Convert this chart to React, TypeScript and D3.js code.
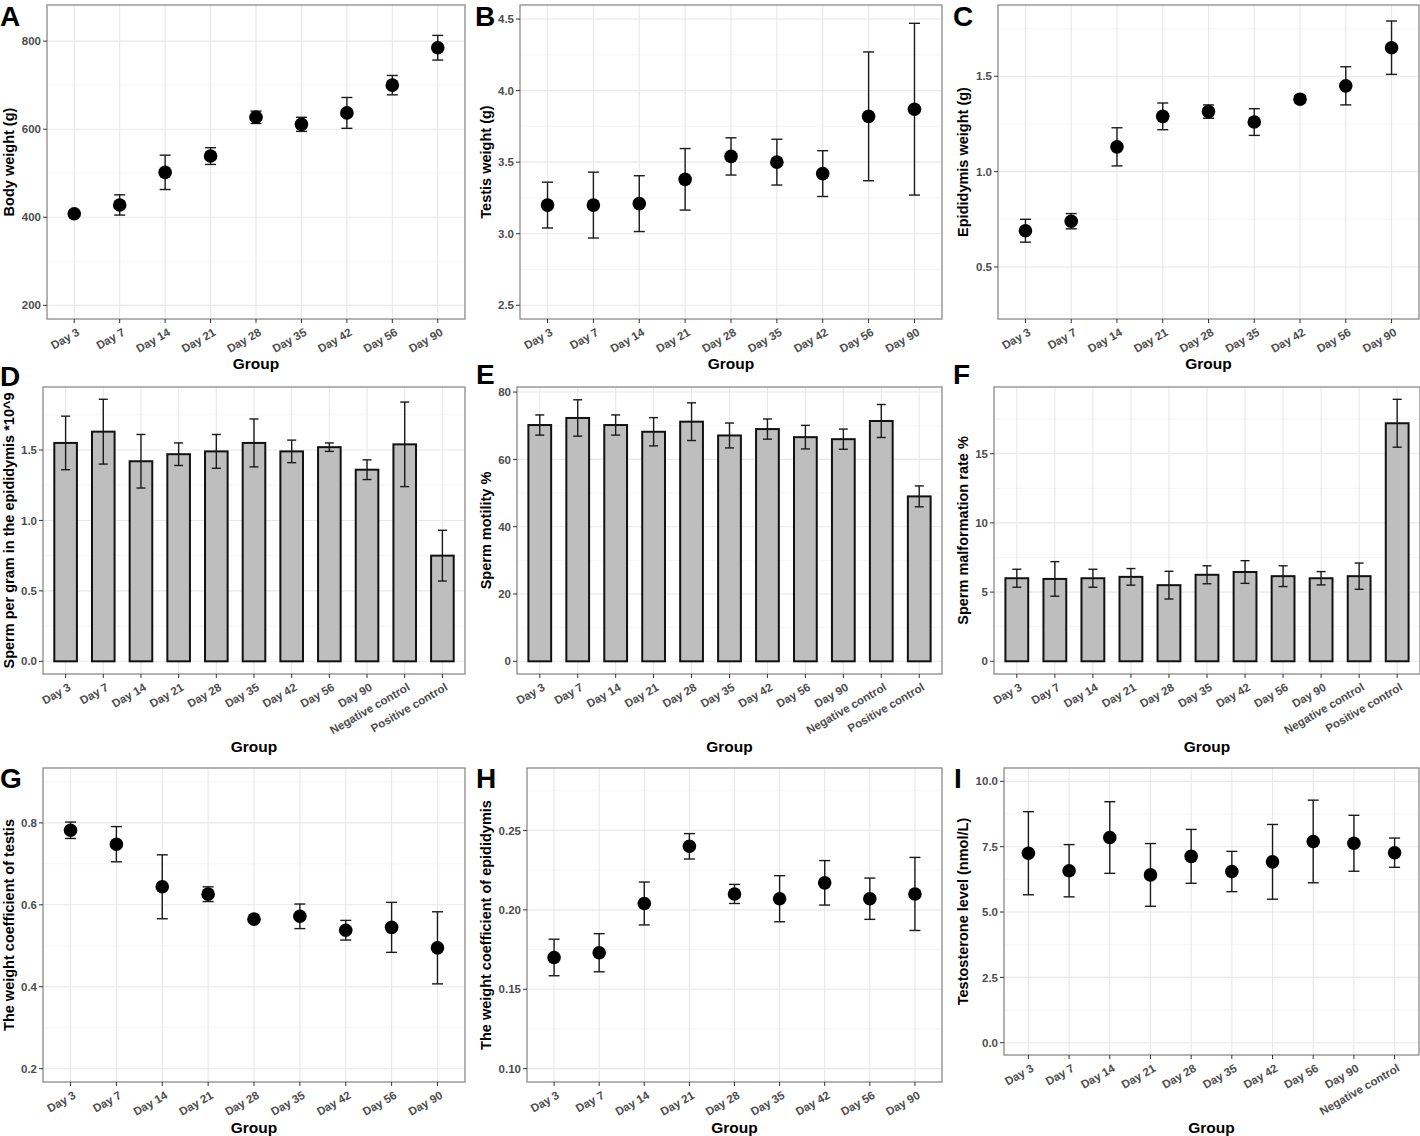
import * as d3 from "d3";

const DAYS = ["Day 3", "Day 7", "Day 14", "Day 21", "Day 28", "Day 35", "Day 42", "Day 56", "Day 90"];
const GROUPS_ALL = [...DAYS, "Negative control", "Positive control"];
const GROUPS_I = [...DAYS, "Negative control"];

// A body weight
const bodyMean = [408, 428, 502, 539, 627, 611, 637, 700, 785];
const bodySd = [6, 23, 39, 19, 14, 16, 35, 22, 28];
// B testis weight
const testisMean = [3.2, 3.2, 3.21, 3.38, 3.54, 3.5, 3.42, 3.82, 3.87];
const testisSd = [0.16, 0.23, 0.195, 0.215, 0.13, 0.16, 0.16, 0.45, 0.6];
// C epididymis weight
const epiMean = [0.69, 0.74, 1.13, 1.29, 1.315, 1.26, 1.38, 1.45, 1.65];
const epiSd = [0.06, 0.04, 0.1, 0.07, 0.035, 0.07, 0.02, 0.1, 0.14];
// D sperm per gram
const spermMean = [1.55, 1.63, 1.42, 1.47, 1.49, 1.55, 1.49, 1.52, 1.36, 1.54, 0.75];
const spermSd = [0.19, 0.23, 0.19, 0.08, 0.12, 0.17, 0.08, 0.03, 0.07, 0.3, 0.18];
// E motility
const motilityMean = [70.2, 72.3, 70.2, 68.2, 71.2, 67.1, 69.0, 66.6, 66.0, 71.4, 49.0];
const motilitySd = [3.0, 5.4, 3.0, 4.2, 5.6, 3.7, 3.0, 3.5, 3.0, 4.9, 3.1];
// F malformation
const malformMean = [6.0, 5.95, 6.0, 6.1, 5.5, 6.25, 6.45, 6.15, 6.0, 6.15, 17.2];
const malformSd = [0.65, 1.25, 0.65, 0.6, 1.0, 0.65, 0.82, 0.75, 0.48, 0.95, 1.73];
// G coefficient testis
const coefTestisMean = [0.782, 0.748, 0.644, 0.626, 0.565, 0.572, 0.538, 0.545, 0.495];
const coefTestisSd = [0.02, 0.043, 0.078, 0.018, 0.004, 0.03, 0.024, 0.061, 0.088];
// H coefficient epididymis
const coefEpiMean = [0.17, 0.173, 0.204, 0.24, 0.21, 0.207, 0.217, 0.207, 0.21];
const coefEpiSd = [0.0115, 0.012, 0.0135, 0.008, 0.006, 0.0145, 0.014, 0.013, 0.023];
// I testosterone
const testoMean = [7.25, 6.58, 7.85, 6.42, 7.13, 6.55, 6.92, 7.7, 7.63, 7.27];
const testoSd = [1.59, 1.0, 1.37, 1.2, 1.03, 0.77, 1.43, 1.58, 1.07, 0.56];

const FONT = "'Liberation Sans', Arial, sans-serif";

type PanelProps = {
  letter: string;
  letterX: number;
  letterY: number;
  box: { x0: number; x1: number; y0: number; y1: number };
  groups: string[];
  mean: number[];
  sd: number[];
  domain: [number, number];
  ticks: number[];
  fmt: string;
  yTitle: string;
  yTitleX: number;
  xTitleY: number;
  bars?: boolean;
};

const Panel = ({ letter, letterX, letterY, box, groups, mean, sd, domain, ticks, fmt, yTitle, yTitleX, xTitleY, bars }: PanelProps) => {
  const x = d3.scalePoint<string>().domain(groups).range([box.x0, box.x1]).padding(0.6);
  const y = d3.scaleLinear().domain(domain).range([box.y1, box.y0]);
  const step = x.step();
  const format = d3.format(fmt);
  const tickStep = ticks[1] - ticks[0];
  const minor: number[] = [];
  for (let v = ticks[0] - tickStep / 2; v <= domain[1]; v += tickStep) {
    if (v >= domain[0]) minor.push(v);
  }
  const capW = bars ? 9 : 11;
  return (
    <g>
      <rect x={box.x0} y={box.y0} width={box.x1 - box.x0} height={box.y1 - box.y0} fill="#fff" />
      {minor.map((v, i) => (
        <line key={"mi" + i} x1={box.x0} x2={box.x1} y1={y(v)} y2={y(v)} stroke="#f4f4f4" strokeWidth={0.8} />
      ))}
      {ticks.map((v, i) => (
        <line key={"ma" + i} x1={box.x0} x2={box.x1} y1={y(v)} y2={y(v)} stroke="#e8e8e8" strokeWidth={1.1} />
      ))}
      {groups.map((g) => (
        <line key={"vg" + g} x1={x(g)} x2={x(g)} y1={box.y0} y2={box.y1} stroke="#e8e8e8" strokeWidth={1.1} />
      ))}
      {bars &&
        groups.map((g, i) => (
          <rect
            key={"b" + g}
            x={(x(g) as number) - step * 0.3}
            width={step * 0.6}
            y={y(mean[i])}
            height={y(0) - y(mean[i])}
            fill="#bebebe"
            stroke="#111"
            strokeWidth={2}
          />
        ))}
      {groups.map((g, i) => {
        const cx = x(g) as number;
        const lo = y(mean[i] - sd[i]);
        const hi = y(mean[i] + sd[i]);
        return (
          <g key={"e" + g} stroke="#1a1a1a" strokeWidth={1.4}>
            <line x1={cx} x2={cx} y1={lo} y2={hi} />
            <line x1={cx - capW / 2} x2={cx + capW / 2} y1={lo} y2={lo} />
            <line x1={cx - capW / 2} x2={cx + capW / 2} y1={hi} y2={hi} />
          </g>
        );
      })}
      {!bars &&
        groups.map((g, i) => <circle key={"p" + g} cx={x(g)} cy={y(mean[i])} r={6.8} fill="#000" />)}
      <rect x={box.x0} y={box.y0} width={box.x1 - box.x0} height={box.y1 - box.y0} fill="none" stroke="#8a8a8a" strokeWidth={1.3} />
      {ticks.map((v, i) => (
        <g key={"yt" + i}>
          <line x1={box.x0 - 4} x2={box.x0} y1={y(v)} y2={y(v)} stroke="#333" strokeWidth={1} />
          <text
            x={box.x0 - 6}
            y={y(v)}
            dy="0.36em"
            textAnchor="end"
            fontSize={11.5}
            fontWeight="bold"
            fill="#4d4d4d"
          >
            {format(v)}
          </text>
        </g>
      ))}
      {groups.map((g) => (
        <g key={"xt" + g}>
          <line x1={x(g)} x2={x(g)} y1={box.y1} y2={box.y1 + 4} stroke="#333" strokeWidth={1} />
          <text
            transform={`translate(${(x(g) as number) + 4},${box.y1 + 12}) rotate(-30)`}
            textAnchor="end"
            dy="0.35em"
            fontSize={11.5}
            fontWeight="bold"
            fill="#4d4d4d"
          >
            {g}
          </text>
        </g>
      ))}
      <text
        transform={`translate(${yTitleX},${(box.y0 + box.y1) / 2}) rotate(-90)`}
        textAnchor="middle"
        fontSize={14.5}
        fontWeight="bold"
        fill="#000"
      >
        {yTitle}
      </text>
      <text x={(box.x0 + box.x1) / 2} y={xTitleY} textAnchor="middle" fontSize={15.5} fontWeight="bold" fill="#000">
        Group
      </text>
      <text x={letterX} y={letterY} fontSize={28} fontWeight="bold" fill="#000">
        {letter}
      </text>
    </g>
  );
};

export default function App() {
  return (
    <svg
      width={1420}
      height={1136}
      style={{ position: "absolute", left: 0, top: 0, background: "#fff", fontFamily: FONT }}
    >
      <rect width={1420} height={1136} fill="#fff" />
      <Panel letter="A" letterX={0} letterY={26} box={{ x0: 47, x1: 465, y0: 5, y1: 319 }} groups={DAYS}
        mean={bodyMean} sd={bodySd} domain={[169, 882]} ticks={[200, 400, 600, 800]} fmt="d"
        yTitle="Body weight (g)" yTitleX={14} xTitleY={369} />
      <Panel letter="B" letterX={475} letterY={26} box={{ x0: 520, x1: 942, y0: 5, y1: 319 }} groups={DAYS}
        mean={testisMean} sd={testisSd} domain={[2.404, 4.598]} ticks={[2.5, 3.0, 3.5, 4.0, 4.5]} fmt=".1f"
        yTitle="Testis weight (g)" yTitleX={491} xTitleY={369} />
      <Panel letter="C" letterX={953} letterY={26} box={{ x0: 998, x1: 1419, y0: 5, y1: 319 }} groups={DAYS}
        mean={epiMean} sd={epiSd} domain={[0.227, 1.874]} ticks={[0.5, 1.0, 1.5]} fmt=".1f"
        yTitle="Epididymis weight (g)" yTitleX={968} xTitleY={369} />
      <Panel letter="D" letterX={0} letterY={386} box={{ x0: 43, x1: 465, y0: 387, y1: 674 }} groups={GROUPS_ALL}
        mean={spermMean} sd={spermSd} domain={[-0.09, 1.947]} ticks={[0.0, 0.5, 1.0, 1.5]} fmt=".1f"
        yTitle="Sperm per gram in the epididymis *10^9" yTitleX={14} xTitleY={752} bars />
      <Panel letter="E" letterX={476} letterY={384} box={{ x0: 517, x1: 942, y0: 387, y1: 674 }} groups={GROUPS_ALL}
        mean={motilityMean} sd={motilitySd} domain={[-3.77, 81.5]} ticks={[0, 20, 40, 60, 80]} fmt="d"
        yTitle="Sperm motility %" yTitleX={491} xTitleY={752} bars />
      <Panel letter="F" letterX={953} letterY={384} box={{ x0: 994, x1: 1420, y0: 387, y1: 674 }} groups={GROUPS_ALL}
        mean={malformMean} sd={malformSd} domain={[-0.92, 19.82]} ticks={[0, 5, 10, 15]} fmt="d"
        yTitle="Sperm malformation rate %" yTitleX={968} xTitleY={752} bars />
      <Panel letter="G" letterX={0} letterY={788} box={{ x0: 43, x1: 465, y0: 768, y1: 1082 }} groups={DAYS}
        mean={coefTestisMean} sd={coefTestisSd} domain={[0.1675, 0.934]} ticks={[0.2, 0.4, 0.6, 0.8]} fmt=".1f"
        yTitle="The weight coefficient of testis" yTitleX={14} xTitleY={1133} />
      <Panel letter="H" letterX={476} letterY={788} box={{ x0: 527, x1: 942, y0: 768, y1: 1082 }} groups={DAYS}
        mean={coefEpiMean} sd={coefEpiSd} domain={[0.0916, 0.2893]} ticks={[0.1, 0.15, 0.2, 0.25]} fmt=".2f"
        yTitle="The weight coefficient of epididymis" yTitleX={491} xTitleY={1133} />
      <Panel letter="I" letterX={954} letterY={788} box={{ x0: 1004, x1: 1419, y0: 768, y1: 1055 }} groups={GROUPS_I}
        mean={testoMean} sd={testoSd} domain={[-0.47, 10.51]} ticks={[0.0, 2.5, 5.0, 7.5, 10.0]} fmt=".1f"
        yTitle="Testosterone level (nmol/L)" yTitleX={968} xTitleY={1133} />
    </svg>
  );
}
